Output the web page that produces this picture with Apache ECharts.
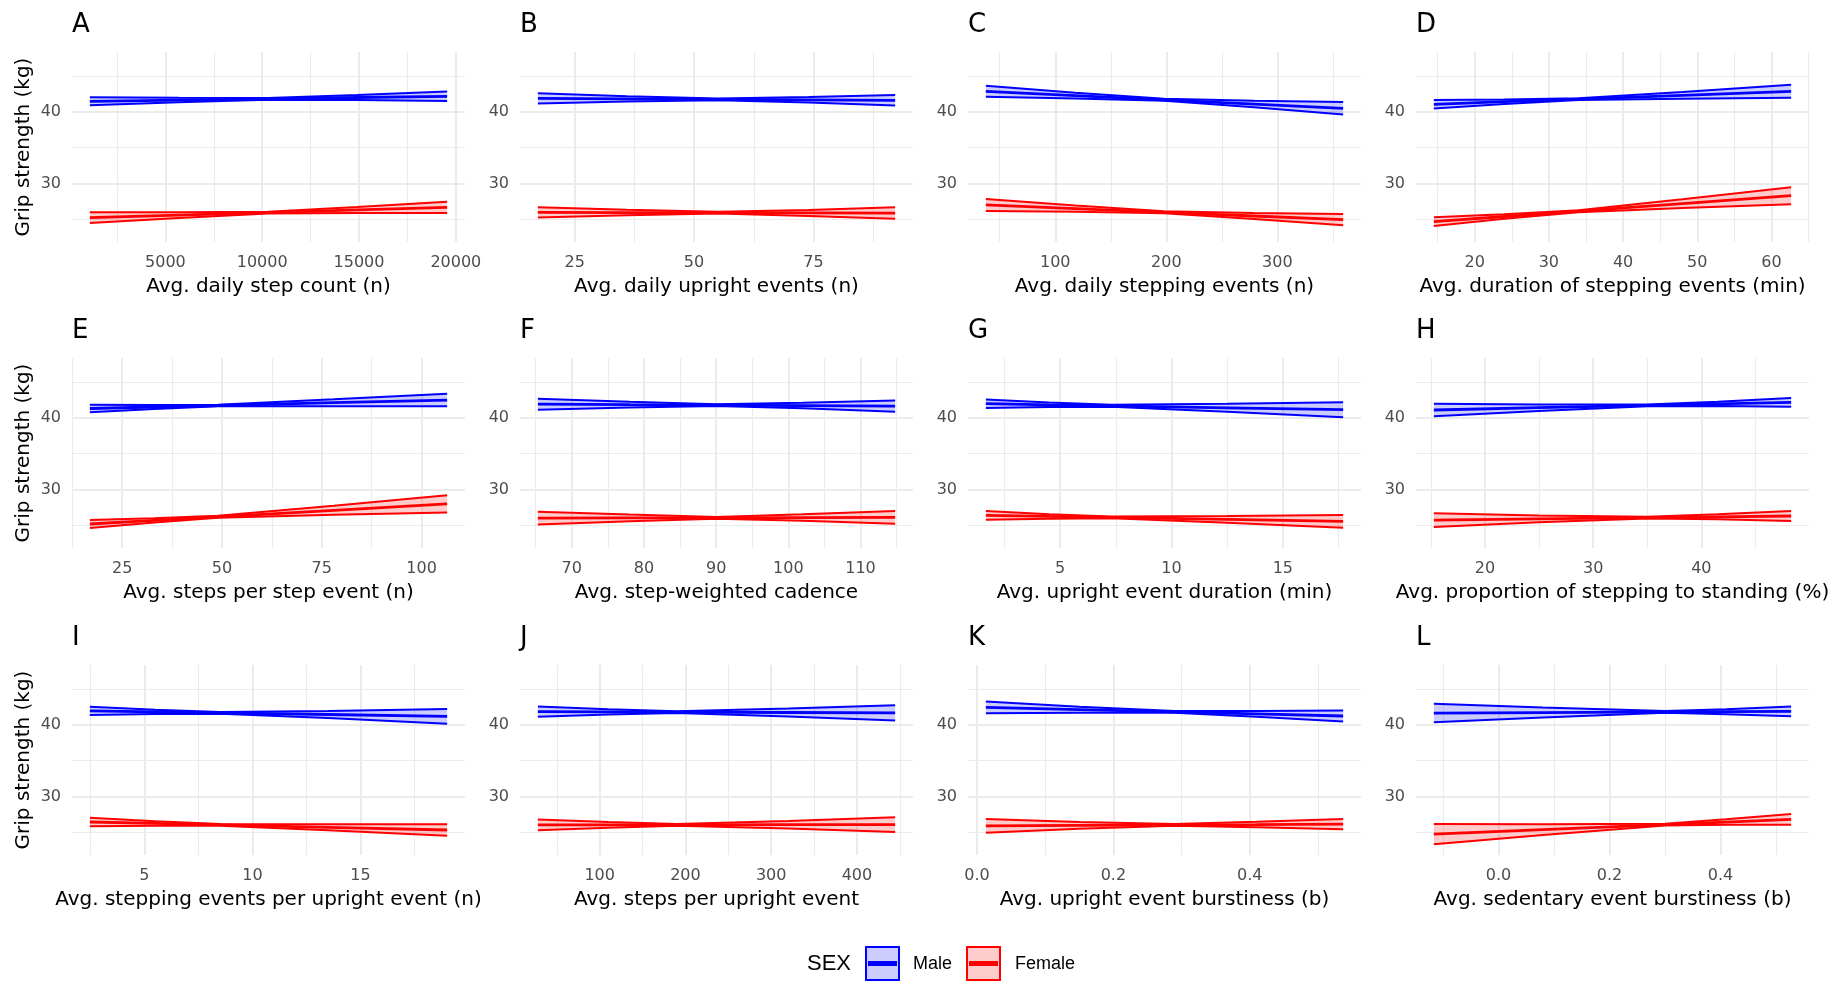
<!DOCTYPE html>
<html>
<head>
<meta charset="utf-8">
<script src="https://cdn.jsdelivr.net/npm/echarts@6/dist/echarts.min.js"></script>
<style>
  html, body { margin: 0; padding: 0; background: #ffffff; }
  #chart { width: 1838px; height: 982px; }
</style>
</head>
<body>
<div id="chart"></div>
<script>
// Panel tags and x-axis titles
const panelLetters = ['A', 'B', 'C', 'D', 'E', 'F', 'G', 'H', 'I', 'J', 'K', 'L'];
const xTitles = [
  'Avg. daily step count (n)',
  'Avg. daily upright events (n)',
  'Avg. daily stepping events (n)',
  'Avg. duration of stepping events (min)',
  'Avg. steps per step event (n)',
  'Avg. step-weighted cadence',
  'Avg. upright event duration (min)',
  'Avg. proportion of stepping to standing (%)',
  'Avg. stepping events per upright event (n)',
  'Avg. steps per upright event',
  'Avg. upright event burstiness (b)',
  'Avg. sedentary event burstiness (b)'
];
const yTitle = 'Grip strength (kg)';

// Exposure values at which the fitted lines and 95% bands are evaluated
const xPoints = [
  [1100, 5700, 10300, 14900, 19550],
  [17.3, 36, 55, 74, 92.1],
  [37.5, 118, 198, 279, 359.2],
  [14.5, 24, 34, 48, 62.65],
  [16.9, 33, 49, 78, 106.4],
  [65.3, 78, 90, 102, 114.8],
  [1.66, 4.5, 7.3, 12.5, 17.71],
  [15.28, 25, 35, 41.5, 48.3],
  [2.48, 5.5, 8.5, 13.5, 19.01],
  [27.9, 110, 190, 320, 444.6],
  [0.013, 0.15, 0.29, 0.41, 0.537],
  [-0.1165, 0.08, 0.3, 0.41, 0.5273]
];

// Male: fitted grip strength and confidence limits (kg)
const maleFit = [
  [41.50, 41.67, 41.85, 42.03, 42.20],
  [41.90, 41.84, 41.77, 41.71, 41.64],
  [42.89, 42.30, 41.71, 41.11, 40.52],
  [41.08, 41.44, 41.81, 42.34, 42.89],
  [41.33, 41.54, 41.75, 42.14, 42.51],
  [41.93, 41.86, 41.80, 41.74, 41.67],
  [42.00, 41.85, 41.71, 41.43, 41.16],
  [41.12, 41.44, 41.76, 41.97, 42.19],
  [41.98, 41.84, 41.70, 41.47, 41.21],
  [41.88, 41.84, 41.81, 41.75, 41.70],
  [42.47, 42.15, 41.83, 41.55, 41.26],
  [41.67, 41.74, 41.83, 41.87, 41.91]
];
const maleLower = [
  [40.95, 41.36, 41.73, 41.68, 41.53],
  [41.18, 41.46, 41.65, 41.33, 40.90],
  [42.12, 41.90, 41.58, 40.66, 39.64],
  [40.48, 41.12, 41.68, 41.87, 41.98],
  [40.80, 41.26, 41.63, 41.66, 41.63],
  [41.17, 41.46, 41.68, 41.36, 40.89],
  [41.40, 41.53, 41.58, 40.88, 40.10],
  [40.24, 40.99, 41.63, 41.67, 41.59],
  [41.40, 41.53, 41.57, 40.97, 40.19],
  [41.16, 41.46, 41.69, 41.20, 40.62],
  [41.64, 41.73, 41.71, 41.15, 40.48],
  [40.37, 41.04, 41.71, 41.52, 41.22]
];
const maleUpper = [
  [42.05, 41.98, 41.97, 42.38, 42.87],
  [42.62, 42.22, 41.89, 42.09, 42.38],
  [43.66, 42.70, 41.84, 41.56, 41.40],
  [41.68, 41.76, 41.94, 42.81, 43.80],
  [41.86, 41.82, 41.87, 42.62, 43.39],
  [42.69, 42.26, 41.92, 42.12, 42.45],
  [42.60, 42.17, 41.84, 41.98, 42.22],
  [42.00, 41.89, 41.89, 42.27, 42.79],
  [42.56, 42.15, 41.83, 41.97, 42.23],
  [42.60, 42.22, 41.93, 42.30, 42.78],
  [43.30, 42.57, 41.95, 41.95, 42.04],
  [42.97, 42.44, 41.95, 42.22, 42.60]
];

// Female: fitted grip strength and confidence limits (kg)
const femaleFit = [
  [25.20, 25.56, 25.92, 26.29, 26.65],
  [25.94, 25.92, 25.90, 25.87, 25.85],
  [26.99, 26.47, 25.96, 25.44, 24.93],
  [24.65, 25.37, 26.12, 27.18, 28.29],
  [25.16, 25.67, 26.17, 27.08, 27.98],
  [25.98, 26.01, 26.03, 26.06, 26.09],
  [26.37, 26.22, 26.08, 25.80, 25.53],
  [25.70, 25.87, 26.05, 26.16, 26.28],
  [26.42, 26.22, 26.01, 25.67, 25.30],
  [26.02, 26.03, 26.03, 26.04, 26.05],
  [25.88, 25.95, 26.01, 26.06, 26.12],
  [24.72, 25.35, 26.06, 26.41, 26.79]
];
const femaleLower = [
  [24.45, 25.16, 25.79, 25.87, 25.86],
  [25.22, 25.54, 25.78, 25.45, 25.04],
  [26.15, 26.03, 25.83, 25.02, 24.14],
  [24.05, 25.04, 25.98, 26.56, 27.10],
  [24.61, 25.37, 26.04, 26.46, 26.76],
  [25.08, 25.54, 25.91, 25.61, 25.21],
  [25.77, 25.90, 25.96, 25.33, 24.65],
  [24.75, 25.39, 25.92, 25.81, 25.59],
  [25.82, 25.90, 25.89, 25.25, 24.51],
  [25.26, 25.63, 25.91, 25.52, 25.03],
  [24.93, 25.47, 25.89, 25.68, 25.40],
  [23.31, 24.60, 25.93, 26.03, 26.05]
];
const femaleUpper = [
  [25.95, 25.96, 26.05, 26.71, 27.44],
  [26.66, 26.30, 26.02, 26.29, 26.66],
  [27.83, 26.91, 26.09, 25.86, 25.72],
  [25.25, 25.70, 26.26, 27.80, 29.48],
  [25.71, 25.97, 26.30, 27.70, 29.20],
  [26.88, 26.48, 26.15, 26.51, 26.97],
  [26.97, 26.54, 26.20, 26.27, 26.41],
  [26.65, 26.35, 26.18, 26.51, 26.97],
  [27.02, 26.54, 26.13, 26.09, 26.09],
  [26.78, 26.43, 26.15, 26.56, 27.07],
  [26.83, 26.43, 26.13, 26.44, 26.84],
  [26.13, 26.10, 26.19, 26.79, 27.53]
];

// Axis breaks
const xMajorTicks = [
  [5000, 10000, 15000, 20000],
  [25, 50, 75],
  [100, 200, 300],
  [20, 30, 40, 50, 60],
  [25, 50, 75, 100],
  [70, 80, 90, 100, 110],
  [5, 10, 15],
  [20, 30, 40],
  [5, 10, 15],
  [100, 200, 300, 400],
  [0, 0.2, 0.4],
  [0, 0.2, 0.4]
];
const xMinorTicks = [
  [2500, 7500, 12500, 17500],
  [37.5, 62.5, 87.5],
  [50, 150, 250, 350],
  [15, 25, 35, 45, 55, 65],
  [12.5, 37.5, 62.5, 87.5],
  [65, 75, 85, 95, 105, 115],
  [2.5, 7.5, 12.5, 17.5],
  [15, 25, 35, 45],
  [2.5, 7.5, 12.5, 17.5],
  [50, 150, 250, 350, 450],
  [0.1, 0.3, 0.5],
  [-0.1, 0.1, 0.3, 0.5]
];
const xTickDecimals = [0, 0, 0, 0, 0, 0, 0, 0, 0, 0, 1, 1];
const yMajorTicks = [30, 40];
const yMinorTicks = [25, 35, 45];
const yLimits = [21.8, 48.4];

const sexes = [
  { name: 'Male', color: '#0000FF', fill: 'rgba(0,0,255,0.2)', fit: maleFit, lo: maleLower, hi: maleUpper },
  { name: 'Female', color: '#FF0000', fill: 'rgba(255,0,0,0.2)', fit: femaleFit, lo: femaleLower, hi: femaleUpper }
];

// Layout of the 4 x 3 panel grid
const AXIS_FONT = '"DejaVu Sans", "Liberation Sans", sans-serif';
const LEGEND_FONT = '"Liberation Sans", Arial, sans-serif';
const colLeft = [72, 520, 968, 1416];
const rowTop = [52, 358, 665];
const panelW = 393, panelH = 190;
const gridMajor = { color: '#EBEBEB', width: 2 };
const gridMinor = { color: '#EBEBEB', width: 1.1 };

const grids = [], xAxes = [], yAxes = [], series = [], graphics = [];

panelLetters.forEach((letter, i) => {
  const r = Math.floor(i / 4), c = i % 4;
  grids.push({ left: colLeft[c], top: rowTop[r], width: panelW, height: panelH, containLabel: false, outerBoundsMode: 'none' });

  const xs = xPoints[i];
  const span = xs[xs.length - 1] - xs[0];
  const xMin = xs[0] - 0.05 * span, xMax = xs[xs.length - 1] + 0.05 * span;
  const dec = xTickDecimals[i];

  const xMajorIdx = xAxes.length;
  xAxes.push({
    type: 'value', gridIndex: i, min: xMin, max: xMax, position: 'bottom',
    axisLine: { show: false },
    axisTick: { show: false, customValues: xMajorTicks[i] },
    axisLabel: { customValues: xMajorTicks[i], formatter: v => v.toFixed(dec), color: '#4D4D4D', fontSize: 16, fontFamily: AXIS_FONT, margin: 13 },
    splitLine: { show: true, lineStyle: gridMajor },
    name: xTitles[i], nameLocation: 'middle', nameGap: 35,
    nameTextStyle: { color: '#000000', fontSize: 20, fontFamily: AXIS_FONT }
  });
  xAxes.push({
    type: 'value', gridIndex: i, min: xMin, max: xMax, position: 'bottom',
    axisLine: { show: false },
    axisTick: { show: false, customValues: xMinorTicks[i] },
    axisLabel: { show: false, customValues: xMinorTicks[i] },
    splitLine: { show: true, lineStyle: gridMinor }
  });

  const yMajorIdx = yAxes.length;
  yAxes.push({
    type: 'value', gridIndex: i, min: yLimits[0], max: yLimits[1], position: 'left',
    axisLine: { show: false },
    axisTick: { show: false, customValues: yMajorTicks },
    axisLabel: { customValues: yMajorTicks, color: '#4D4D4D', fontSize: 16, fontFamily: AXIS_FONT, margin: 11 },
    splitLine: { show: true, lineStyle: gridMajor },
    name: c === 0 ? yTitle : '', nameLocation: 'middle', nameGap: 38, nameRotate: 90,
    nameTextStyle: { color: '#000000', fontSize: 20, fontFamily: AXIS_FONT }
  });
  yAxes.push({
    type: 'value', gridIndex: i, min: yLimits[0], max: yLimits[1], position: 'left',
    axisLine: { show: false },
    axisTick: { show: false, customValues: yMinorTicks },
    axisLabel: { show: false, customValues: yMinorTicks },
    splitLine: { show: true, lineStyle: gridMinor }
  });

  sexes.forEach(s => {
    const lo = s.lo[i], hi = s.hi[i], fit = s.fit[i];
    // confidence band as one polygon: upper limit left to right, lower limit back
    series.push({
      type: 'custom', name: s.name, coordinateSystem: 'cartesian2d',
      xAxisIndex: xMajorIdx, yAxisIndex: yMajorIdx, silent: true,
      data: xs.map((x, k) => [x, lo[k], hi[k]]),
      encode: { x: 0, y: [1, 2] },
      renderItem: (params, api) => {
        if (params.dataIndex !== 0) return null;
        const upper = xs.map((x, k) => api.coord([x, hi[k]]));
        const lower = xs.map((x, k) => api.coord([x, lo[k]])).reverse();
        return { type: 'polygon', shape: { points: upper.concat(lower) }, style: { fill: s.fill } };
      }
    });
    [lo, hi].forEach(limit => {
      series.push({
        type: 'line', name: s.name, xAxisIndex: xMajorIdx, yAxisIndex: yMajorIdx,
        data: xs.map((x, k) => [x, limit[k]]), symbol: 'none', silent: true,
        lineStyle: { color: s.color, width: 2 }
      });
    });
    series.push({
      type: 'line', name: s.name, xAxisIndex: xMajorIdx, yAxisIndex: yMajorIdx,
      data: xs.map((x, k) => [x, fit[k]]), symbol: 'none', silent: true,
      lineStyle: { color: s.color, width: 2.8 }
    });
  });

  // panel tag
  graphics.push({
    type: 'text', x: colLeft[c], y: rowTop[r] - 27,
    style: { text: letter, fill: '#000000', font: '26px ' + AXIS_FONT, verticalAlign: 'middle', align: 'left' }
  });
});

// legend: SEX with filled band keys
const legendY = 964;
graphics.push({ type: 'text', x: 807, y: legendY, style: { text: 'SEX', fill: '#000000', font: '22px ' + LEGEND_FONT, verticalAlign: 'middle' } });
const keyLeft = [866, 967], labelLeft = [913, 1015];
sexes.forEach((s, k) => {
  graphics.push({ type: 'rect', shape: { x: keyLeft[k], y: legendY - 17, width: 33, height: 33 }, style: { fill: s.fill, stroke: s.color, lineWidth: 2 } });
  graphics.push({ type: 'line', shape: { x1: keyLeft[k] + 2, y1: legendY - 0.5, x2: keyLeft[k] + 31, y2: legendY - 0.5 }, style: { stroke: s.color, lineWidth: 5 } });
  graphics.push({ type: 'text', x: labelLeft[k], y: legendY, style: { text: s.name, fill: '#000000', font: '18px ' + LEGEND_FONT, verticalAlign: 'middle' } });
});

const chart = echarts.init(document.getElementById('chart'), null, { renderer: 'canvas' });
chart.setOption({
  backgroundColor: '#ffffff',
  animation: false,
  grid: grids,
  xAxis: xAxes,
  yAxis: yAxes,
  series: series,
  graphic: graphics
});
</script>
</body>
</html>
